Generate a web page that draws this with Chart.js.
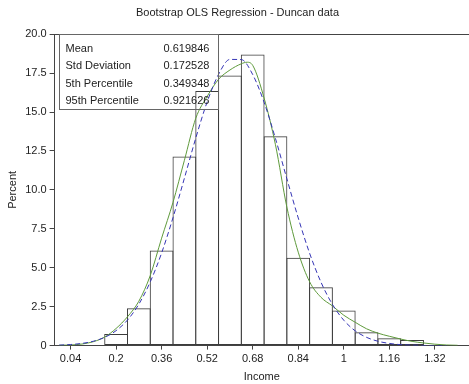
<!DOCTYPE html>
<html>
<head>
<meta charset="utf-8">
<script src="https://cdn.jsdelivr.net/npm/chart.js@4/dist/chart.umd.min.js"></script>
<style>
  html, body { margin: 0; padding: 0; background: #fff; }
  #wrap { width: 469px; height: 384px; }
</style>
</head>
<body>
<div id="wrap"><canvas id="bootChart" width="469" height="384"></canvas></div>
<script>
/* histogram: bin centres (width 0.08) and percent per bin */
const binCenters = [0.2, 0.28, 0.36, 0.44, 0.52, 0.6, 0.68, 0.76, 0.84, 0.92, 1.0, 1.08, 1.16, 1.24];
const binPercent = [0.75, 2.4, 6.1, 12.15, 16.35, 17.35, 18.7, 13.45, 5.65, 3.75, 2.25, 0.85, 0.48, 0.36];

/* fitted normal curve (blue, dashed) */
const normalX = [0.0, 0.04, 0.08, 0.12, 0.16, 0.2, 0.24, 0.28, 0.32, 0.36, 0.4, 0.44, 0.48, 0.52, 0.56, 0.6, 0.64, 0.68, 0.72, 0.76, 0.8, 0.84, 0.88, 0.92, 0.96, 1.0, 1.04, 1.08, 1.12, 1.16, 1.2, 1.24, 1.28, 1.32, 1.36];
const normalY = [0.03, 0.07, 0.14, 0.28, 0.53, 0.96, 1.64, 2.66, 4.09, 5.95, 8.22, 10.75, 13.33, 15.65, 17.42, 18.38, 18.37, 17.41, 15.63, 13.3, 10.72, 8.2, 5.93, 4.07, 2.65, 1.63, 0.95, 0.53, 0.28, 0.14, 0.06, 0.03, 0.01, 0.0, 0.0];

/* kernel density curve (green, solid) */
const kernelX = [0.0, 0.04, 0.08, 0.12, 0.16, 0.2, 0.24, 0.28, 0.32, 0.36, 0.4, 0.44, 0.48, 0.52, 0.56, 0.6, 0.64, 0.66, 0.68, 0.72, 0.76, 0.8, 0.84, 0.88, 0.92, 0.96, 1.0, 1.04, 1.08, 1.12, 1.16, 1.2, 1.24, 1.28, 1.32, 1.36, 1.4];
const kernelY = [0.02, 0.04, 0.1, 0.25, 0.55, 1.1, 1.85, 2.85, 4.5, 6.9, 9.2, 11.9, 14.6, 16.0, 17.1, 17.7, 18.1, 18.2, 18.0, 15.9, 12.9, 8.9, 6.0, 4.1, 3.1, 2.55, 1.95, 1.5, 1.08, 0.8, 0.6, 0.42, 0.27, 0.17, 0.09, 0.04, 0.02];

/* axis ticks */
const xTicks = [0.04, 0.2, 0.36, 0.52, 0.68, 0.84, 1.0, 1.16, 1.32];
const yTicks = [0, 2.5, 5, 7.5, 10, 12.5, 15, 17.5, 20];

/* summary statistics in the inset box */
const statLabels = ["Mean", "Std Deviation", "5th Percentile", "95th Percentile"];
const statValues = ["0.619846", "0.172528", "0.349348", "0.921626"];

const FONT = "'Liberation Sans', Arial, Helvetica, sans-serif";
const TEXT = "#222";

/*=========================================
FRAME + STATS BOX
=========================================*/

const framePlugin = {
  id: "frame",
  afterDraw(chart) {
    const { ctx, chartArea } = chart;
    ctx.save();
    // top border of the plot
    ctx.strokeStyle = "#444";
    ctx.lineWidth = 1;
    ctx.beginPath();
    ctx.moveTo(chartArea.left, Math.round(chartArea.top) + 0.5);
    ctx.lineTo(chartArea.right, Math.round(chartArea.top) + 0.5);
    ctx.stroke();

    // stats box
    const bx = Math.round(chartArea.left) + 4.5;
    const by = Math.round(chartArea.top) + 0.5;
    ctx.strokeStyle = "#666";
    ctx.strokeRect(bx, by, 159, 75);
    ctx.font = "11px " + FONT;
    ctx.fillStyle = TEXT;
    ctx.textBaseline = "middle";
    statLabels.forEach((lab, i) => {
      const y = by + 14 + i * 17.5;
      ctx.fillText(lab, bx + 6, y);
      ctx.fillText(statValues[i], bx + 104, y);
    });
    ctx.restore();
  }
};

/*=========================================
CHART
=========================================*/

new Chart(document.getElementById("bootChart"), {
  type: "bar",
  data: {
    datasets: [
      {
        type: "line",
        data: normalX.map((x, i) => ({ x: x, y: normalY[i] })),
        borderColor: "#3535b5",
        borderWidth: 1,
        borderDash: [5, 3],
        pointRadius: 0,
        cubicInterpolationMode: "monotone",
        fill: false
      },
      {
        type: "line",
        data: kernelX.map((x, i) => ({ x: x, y: kernelY[i] })),
        borderColor: "#5f9a3c",
        borderWidth: 1,
        pointRadius: 0,
        cubicInterpolationMode: "monotone",
        fill: false
      },
      {
        type: "bar",
        data: binCenters.map((x, i) => ({ x: x, y: binPercent[i] })),
        backgroundColor: "rgba(255,255,255,0)",
        borderColor: "#3c3c3c",
        borderWidth: 1,
        borderSkipped: false,
        // widen by ~1px so neighbouring edges share one line
        barPercentage: 1.044,
        categoryPercentage: 1
      }
    ]
  },
  options: {
    responsive: false,
    devicePixelRatio: 1,
    animation: false,
    layout: { padding: { left: 6, right: 0, top: 0, bottom: 0 } },
    plugins: {
      legend: { display: false },
      tooltip: { enabled: false },
      title: {
        display: true,
        text: "Bootstrap OLS Regression - Duncan data",
        color: TEXT,
        font: { family: FONT, size: 11, weight: "normal" },
        padding: { top: 6, bottom: 15 }
      }
    },
    scales: {
      x: {
        type: "linear",
        min: -0.016,
        max: 1.44,
        offset: false,
        afterBuildTicks: (scale) => { scale.ticks = xTicks.map(v => ({ value: v })); },
        ticks: {
          color: TEXT,
          font: { family: FONT, size: 11 },
          padding: 3,
          maxRotation: 0,
          autoSkip: false,
          callback: (v) => String(+Number(v).toFixed(2))
        },
        grid: { display: true, drawOnChartArea: false, offset: false, tickLength: 4, color: "#444" },
        border: { display: true, color: "#444" },
        title: {
          display: true,
          text: "Income",
          color: TEXT,
          font: { family: FONT, size: 11 },
          padding: { top: 2, bottom: 0 }
        }
      },
      y: {
        min: 0,
        max: 20,
        afterBuildTicks: (scale) => { scale.ticks = yTicks.map(v => ({ value: v })); },
        ticks: {
          color: TEXT,
          font: { family: FONT, size: 11 },
          padding: 3,
          callback: (v) => (v === 0 ? "0" : Number(v).toFixed(1))
        },
        grid: { display: true, drawOnChartArea: false, tickLength: 5, color: "#444" },
        border: { display: true, color: "#444" },
        title: {
          display: true,
          text: "Percent",
          color: TEXT,
          font: { family: FONT, size: 11 },
          padding: { top: 0, bottom: 3 }
        }
      }
    }
  },
  plugins: [framePlugin]
});
</script>
</body>
</html>
